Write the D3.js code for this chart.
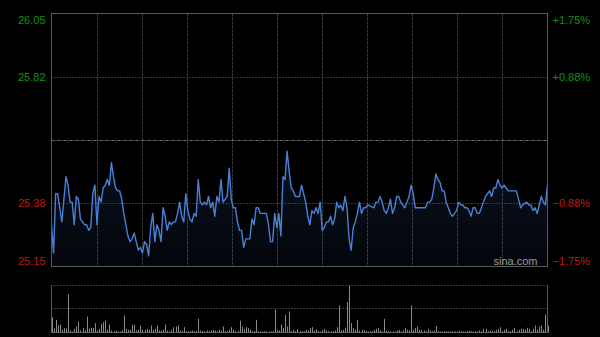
<!DOCTYPE html>
<html>
<head>
<meta charset="utf-8">
<script src="https://cdn.jsdelivr.net/npm/d3@7"></script>
<style>
  html, body { margin: 0; padding: 0; background: #000; }
  svg { display: block; }
  text { font-family: "Liberation Sans", Arial, sans-serif; }
</style>
</head>
<body>
<div id="chart"></div>
<script>
// intraday minute line (minute index -> price)
const prevClose = 25.60;
const limitPct = 0.0175;

const lineMinutes = [0,1,2,3,4,5,7,8,9,10,11,12,13,14,15,16,17,18,19,20,21,22,23,24,25,26,27,28,29,30,
  31,32,33,34,35,36,37,38,39,40,41,42,43,44,45,46,47,48,49,50,51,52,53,54,55,56,57,58,59,60,
  61,62,63,64,65,66,67,68,69,70,71,72,73,74,75,76,77,78,79,80,81,82,83,84,85,86,87,88,89,90,
  91,92,93,94,95,96,97,98,99,100,101,104,105,106,107,108,109,110,111,112,113,114,115,116,117,118,119,120,
  121,122,123,124,125,126,127,128,129,130,131,132,133,134,135,136,137,138,139,140,141,142,143,144,145,146,147,148,149,150,
  151,152,153,156,157,158,159,160,161,162,163,164,165,166,167,168,169,170,171,172,173,174,175,176,181,182,183,184,185,186,
  187,188,189,190,191,192,193,194,195,196,197,198,199,200,201,202,203,204,205,206,207,208,209,210,211,212,213,214,215,216,
  217,218,219,220,221,225,226,227,228,230,231,232,233,234,235,236,237,238,239,240];

const linePrices = [25.30,25.20,25.41,25.41,25.36,25.31,25.47,25.44,25.38,25.38,25.30,25.40,25.39,25.32,25.31,25.30,25.30,25.28,25.29,25.41,25.44,25.30,25.40,25.38,25.43,25.44,25.46,25.44,25.52,25.47,
  25.43,25.42,25.42,25.39,25.34,25.30,25.26,25.24,25.25,25.27,25.24,25.21,25.22,25.20,25.24,25.23,25.19,25.29,25.34,25.24,25.30,25.28,25.24,25.36,25.33,25.28,25.31,25.30,25.31,25.31,
  25.34,25.38,25.33,25.31,25.41,25.35,25.32,25.31,25.34,25.33,25.46,25.38,25.37,25.38,25.37,25.40,25.36,25.38,25.33,25.40,25.38,25.46,25.38,25.39,25.40,25.50,25.39,25.36,25.36,25.31,
  25.28,25.28,25.22,25.25,25.25,25.25,25.32,25.30,25.36,25.36,25.34,25.34,25.30,25.24,25.24,25.34,25.29,25.34,25.26,25.47,25.46,25.56,25.49,25.43,25.42,25.40,25.40,25.40,
  25.44,25.41,25.38,25.33,25.30,25.35,25.34,25.36,25.34,25.38,25.28,25.29,25.31,25.31,25.33,25.30,25.32,25.38,25.36,25.37,25.35,25.40,25.36,25.25,25.21,25.29,25.31,25.34,25.38,25.34,
  25.36,25.36,25.37,25.36,25.38,25.38,25.40,25.38,25.35,25.34,25.36,25.39,25.34,25.36,25.40,25.40,25.38,25.37,25.36,25.38,25.40,25.44,25.41,25.36,25.36,25.38,25.38,25.39,25.43,25.48,
  25.46,25.45,25.42,25.42,25.38,25.36,25.34,25.33,25.34,25.35,25.38,25.37,25.37,25.36,25.36,25.35,25.33,25.36,25.36,25.34,25.34,25.36,25.38,25.40,25.41,25.42,25.40,25.43,25.43,25.46,
  25.44,25.43,25.44,25.43,25.42,25.42,25.39,25.36,25.37,25.38,25.37,25.37,25.35,25.36,25.34,25.37,25.40,25.38,25.37,25.44];

// volume per minute (0..240)
const volumes = [
  153,40,127,70,77,30,43,40,380,20,
  10,37,60,110,20,47,20,160,37,47,
  47,93,20,37,87,103,120,27,80,20,
  13,20,10,10,20,170,37,27,27,77,
  77,20,27,70,27,27,37,27,70,27,
  37,70,20,20,27,80,20,10,27,53,
  60,70,20,13,53,13,13,13,20,10,
  13,137,20,13,13,20,13,20,27,20,
  13,27,20,60,13,13,27,53,27,13,
  13,120,60,37,53,43,27,13,13,127,
  13,10,10,13,10,10,10,13,230,27,
  20,80,47,177,60,210,13,27,13,33,
  13,13,13,27,20,47,53,20,33,13,
  10,20,37,20,13,13,13,20,53,270,
  20,27,47,303,470,93,47,27,127,20,
  27,20,13,10,13,13,27,37,47,20,
  13,137,20,13,13,10,10,20,27,10,
  20,47,27,20,270,27,47,60,27,27,
  20,13,37,20,13,20,63,13,10,10,
  13,13,10,10,13,13,10,20,13,10,
  10,13,20,13,10,13,10,20,13,37,
  37,13,20,13,13,27,37,53,13,27,
  37,13,13,27,47,13,27,37,37,27,
  47,37,13,37,70,27,60,70,27,180,70];

const sessionSlots = 11;   // half-hour blocks across the day

const W = 600, H = 337;
const L = 51.5, R = 547.5;
const T = 13.5, B = 266.5;
const VT = 285.5, VB = 332.5;

const svg = d3.select("#chart").append("svg")
  .attr("width", W).attr("height", H);

svg.append("rect").attr("width", W).attr("height", H).attr("fill", "#000");

const x = d3.scaleLinear().domain([0, 240]).range([L, R]);
const y = d3.scaleLinear()
  .domain([prevClose * (1 - limitPct), prevClose * (1 + limitPct)])
  .range([B, T]);
const yv = d3.scaleLinear().domain([0, d3.max(volumes)]).range([VB, VT]);

const priceTicks = [prevClose * (1 + limitPct), prevClose * (1 + limitPct / 2),
                    prevClose * (1 - limitPct / 2), prevClose * (1 - limitPct)];

const grid = svg.append("g");

// vertical dashed lines
d3.range(1, sessionSlots).forEach(i => {
  const xx = Math.round(x(i * 240 / sessionSlots)) + 0.5;
  grid.append("line")
    .attr("x1", xx).attr("x2", xx).attr("y1", T).attr("y2", B)
    .attr("stroke", "#3a3a3a").attr("stroke-dasharray", "3,1");
});

// horizontal dotted lines
[priceTicks[1], priceTicks[2]].forEach(v => {
  const yy = Math.round(y(v)) + 0.5;
  grid.append("line")
    .attr("x1", L).attr("x2", R).attr("y1", yy).attr("y2", yy)
    .attr("stroke", "#6a6a6a").attr("stroke-dasharray", "1,2");
});

// previous close line
const yc = Math.round(y(prevClose)) + 0.5;
grid.append("line")
  .attr("x1", L).attr("x2", R).attr("y1", yc).attr("y2", yc)
  .attr("stroke", "#707070").attr("stroke-dasharray", "3,1,1,1");

// area + line
const pts = lineMinutes.map((m, i) => ({ m: m, p: linePrices[i] }));

const defs = svg.append("defs");
const grad = defs.append("linearGradient").attr("id", "fillGrad")
  .attr("x1", 0).attr("y1", 0).attr("x2", 0).attr("y2", 1);
grad.append("stop").attr("offset", "0%").attr("stop-color", "#2b4f8f").attr("stop-opacity", 0.22);
grad.append("stop").attr("offset", "100%").attr("stop-color", "#2b4f8f").attr("stop-opacity", 0.08);

svg.append("path").datum(pts)
  .attr("fill", "url(#fillGrad)")
  .attr("d", d3.area().x(d => x(d.m)).y0(B).y1(d => y(d.p)));

svg.append("path").datum(pts)
  .attr("fill", "none")
  .attr("stroke", "#4a80d6")
  .attr("stroke-width", 1.4)
  .attr("stroke-linejoin", "round")
  .attr("d", d3.line().x(d => x(d.m)).y(d => y(d.p)));

// frame
svg.append("rect")
  .attr("x", L).attr("y", T).attr("width", R - L).attr("height", B - T)
  .attr("fill", "none").attr("stroke", "#5a5a5a");

// axis labels
const leftAxis = svg.append("g")
  .attr("transform", `translate(${L - 3},0)`)
  .call(d3.axisLeft(y).tickValues(priceTicks).tickSize(0).tickFormat(d3.format(".2f")));
const rightAxis = svg.append("g")
  .attr("transform", `translate(${R + 2},0)`)
  .call(d3.axisRight(y).tickValues(priceTicks).tickSize(0)
    .tickFormat(v => (v > prevClose ? "+" : "") + d3.format(".2f")((v / prevClose - 1) * 100) + "%"));

[leftAxis, rightAxis].forEach(g => {
  g.select(".domain").remove();
  g.selectAll("text")
    .attr("font-size", 11)
    .attr("font-family", "Liberation Sans, Arial, sans-serif")
    .attr("fill", d => d > prevClose ? "#0e940e" : "#c41810")
    .attr("dy", (d, i) => i === 0 ? "0.9em" : i === 3 ? "-0.2em" : "0.32em");
});

// watermark
svg.append("text")
  .attr("x", R - 10).attr("y", 265)
  .attr("text-anchor", "end")
  .attr("font-size", 11)
  .attr("fill", "#9a9a9a")
  .text("sina.com");

// volume panel
const vg = svg.append("g");
[VT, Math.round((VT + VB) / 2) - 0.5].forEach(yy => {
  vg.append("line").attr("x1", L).attr("x2", R).attr("y1", yy).attr("y2", yy)
    .attr("stroke", "#6a6a6a").attr("stroke-dasharray", "1,2");
});
vg.append("line").attr("x1", L).attr("x2", R).attr("y1", VB).attr("y2", VB).attr("stroke", "#5a5a5a");
vg.append("line").attr("x1", L).attr("x2", L).attr("y1", VT).attr("y2", VB).attr("stroke", "#5a5a5a");
vg.append("line").attr("x1", R).attr("x2", R).attr("y1", VT).attr("y2", VB).attr("stroke", "#5a5a5a");

vg.selectAll("line.vol").data(volumes).enter().append("line")
  .attr("class", "vol")
  .attr("x1", (d, i) => Math.round(x(i)) + 0.5)
  .attr("x2", (d, i) => Math.round(x(i)) + 0.5)
  .attr("y1", VB)
  .attr("y2", d => yv(d))
  .attr("stroke", "#8a8a8a");
</script>
</body>
</html>
